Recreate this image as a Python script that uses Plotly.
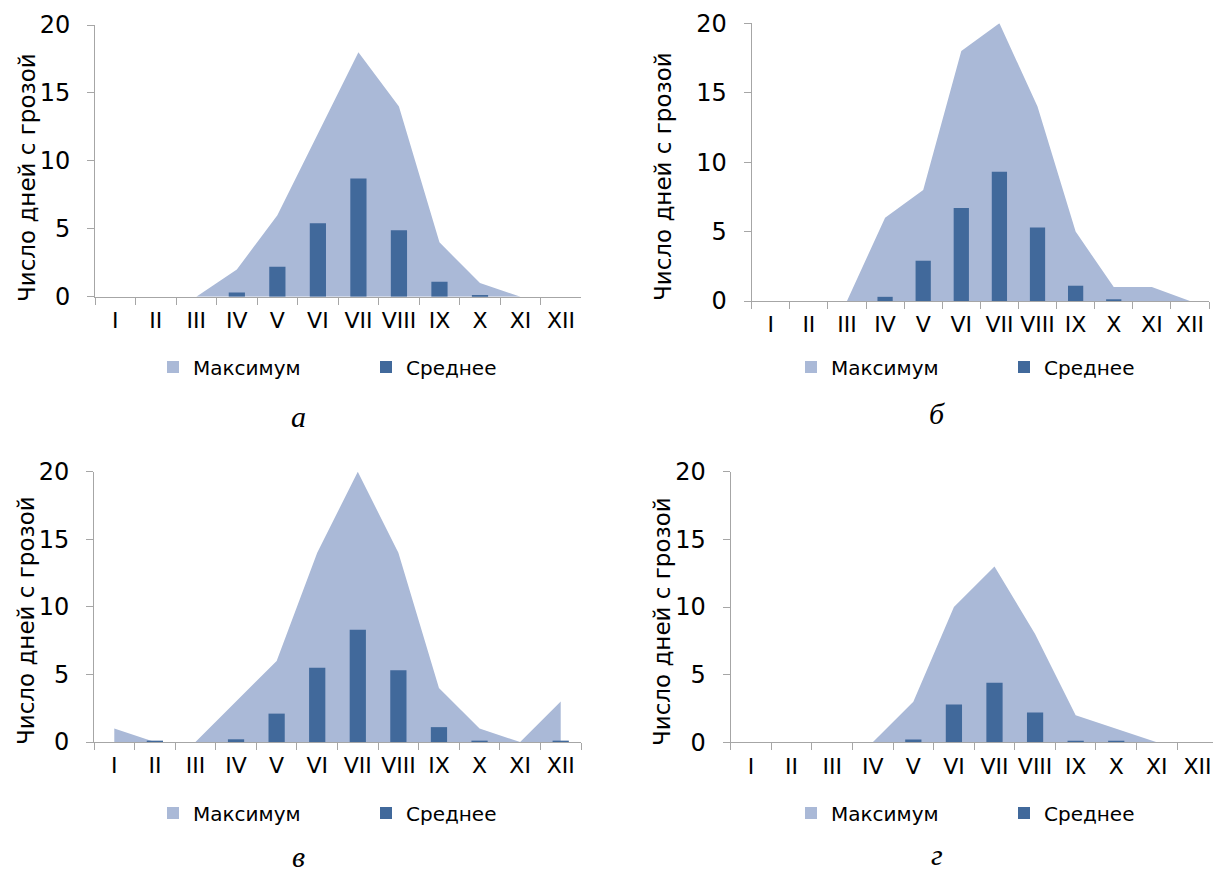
import plotly.graph_objects as go

# ---------------- data ----------------
months = ["I", "II", "III", "IV", "V", "VI", "VII", "VIII", "IX", "X", "XI", "XII"]

max_a = [0, 0, 0, 2, 6, 12, 18, 14, 4, 1, 0, 0]
mean_a = [0, 0, 0, 0.3, 2.2, 5.4, 8.7, 4.9, 1.1, 0.1, 0, 0]

max_b = [0, 0, 0, 6, 8, 18, 20, 14, 5, 1, 1, 0]
mean_b = [0, 0, 0, 0.3, 2.9, 6.7, 9.3, 5.3, 1.1, 0.1, 0, 0]

max_c = [1, 0, 0, 3, 6, 14, 20, 14, 4, 1, 0, 3]
mean_c = [0, 0.1, 0, 0.2, 2.1, 5.5, 8.3, 5.3, 1.1, 0.1, 0, 0.1]

max_d = [0, 0, 0, 0, 3, 10, 13, 8, 2, 1, 0, 0]
mean_d = [0, 0, 0, 0, 0.2, 2.8, 4.4, 2.2, 0.1, 0.1, 0, 0]

y_title = "Число дней с грозой"
name_max = "Максимум"
name_mean = "Среднее"
captions = ["а", "б", "в", "г"]

# ---------------- style / layout ----------------
W, H = 1213, 874
AREA = "#AAB9D7"
BAR = "#41699B"
GRAY = "#A6A6A6"
SANS = "DejaVu Sans"
SERIF = "Liberation Serif"

panels = [
    dict(maxv=max_a, meanv=mean_a, x0=95, x1=581.3, y0=296.7, y20=25,
         tx=27, ty=178, lx=153, ly=367, cx=298, cy=416),
    dict(maxv=max_b, meanv=mean_b, x0=751.7, x1=1209, y0=301, y20=23.3,
         tx=663, ty=177, lx=791, ly=367, cx=937, cy=413),
    dict(maxv=max_c, meanv=mean_c, x0=94, x1=581, y0=742, y20=471.7,
         tx=26, ty=621, lx=153, ly=813, cx=298, cy=856),
    dict(maxv=max_d, meanv=mean_d, x0=730.7, x1=1217.7, y0=742.3, y20=471.7,
         tx=662, ty=621, lx=791, ly=813, cx=937, cy=854),
]

fig = go.Figure()
layout = dict(
    template="none",
    width=W, height=H, margin=dict(l=0, r=0, t=0, b=0, autoexpand=False),
    paper_bgcolor="white", plot_bgcolor="rgba(0,0,0,0)",
    barmode="overlay", showlegend=True, annotations=[],
)

for i, p in enumerate(panels):
    n = i + 1
    s = "" if n == 1 else str(n)
    o = str(n + 4)
    leg = "legend" if n == 1 else "legend%d" % n

    # clip x domain to paper, keeping the category width
    cw = (p["x1"] - p["x0"]) / 12.0
    xr1 = min(p["x1"], W)
    rng_end = -0.5 + (xr1 - p["x0"]) / cw
    xdom = [p["x0"] / W, xr1 / W]
    ydom = [1 - p["y0"] / H, 1 - p["y20"] / H]

    fig.add_trace(go.Scatter(
        x=months, y=p["maxv"], mode="lines", line=dict(width=0, color=AREA),
        fill="tozeroy", fillcolor=AREA, showlegend=False, hoverinfo="skip",
        xaxis="x" + s, yaxis="y" + s))
    fig.add_trace(go.Bar(
        x=[None], y=[None], name=name_max, marker=dict(color=AREA, line=dict(width=0)),
        xaxis="x" + o, yaxis="y" + o, legend=leg))
    fig.add_trace(go.Bar(
        x=months, y=p["meanv"], name=name_mean, width=0.4,
        marker=dict(color=BAR, line=dict(width=0)),
        xaxis="x" + o, yaxis="y" + o, legend=leg))

    layout["xaxis" + s] = dict(
        type="category", categoryorder="array", categoryarray=months,
        range=[-0.5, rng_end], domain=xdom, anchor="y" + s, automargin=False,
        showline=True, linecolor=GRAY, linewidth=1, mirror=False,
        ticks="outside", ticklen=7, tickcolor=GRAY, tickwidth=1,
        tickson="boundaries", showgrid=False, zeroline=False, tickangle=0,
        tickfont=dict(family=SANS, size=22, color="#000"), ticklabelstandoff=4,
        fixedrange=True)
    layout["yaxis" + s] = dict(
        range=[0, 20], tick0=0, dtick=5, domain=ydom, anchor="x" + s, automargin=False,
        showline=True, linecolor=GRAY, linewidth=1,
        ticks="outside", ticklen=7, tickcolor=GRAY, tickwidth=1,
        showgrid=False, zeroline=False,
        tickfont=dict(family=SANS, size=24, color="#000"), ticklabelstandoff=12,
        fixedrange=True)
    layout["xaxis" + o] = dict(
        type="category", categoryorder="array", categoryarray=months,
        range=[-0.5, rng_end], overlaying="x" + s, anchor="y" + o,
        visible=False, fixedrange=True)
    layout["yaxis" + o] = dict(
        range=[0, 20], overlaying="y" + s, anchor="x" + o,
        visible=False, fixedrange=True)

    layout[leg] = dict(
        orientation="h", x=p["lx"] / W, xanchor="left",
        y=1 - p["ly"] / H, yanchor="middle",
        font=dict(family=SANS, size=20, color="#000"),
        entrywidth=168, entrywidthmode="pixels",
        bgcolor="rgba(0,0,0,0)", borderwidth=0, itemclick=False, itemdoubleclick=False)

    layout["annotations"].append(dict(
        text=y_title, textangle=-90, x=p["tx"] / W, y=1 - p["ty"] / H,
        xref="paper", yref="paper", xanchor="center", yanchor="middle",
        showarrow=False, font=dict(family=SANS, size=23, color="#000")))
    layout["annotations"].append(dict(
        text="<i>%s</i>" % captions[i], x=p["cx"] / W, y=1 - p["cy"] / H,
        xref="paper", yref="paper", xanchor="center", yanchor="middle",
        showarrow=False, font=dict(family=SERIF, size=30, color="#000")))

fig.update_layout(**layout)
fig.write_html("out.html")
